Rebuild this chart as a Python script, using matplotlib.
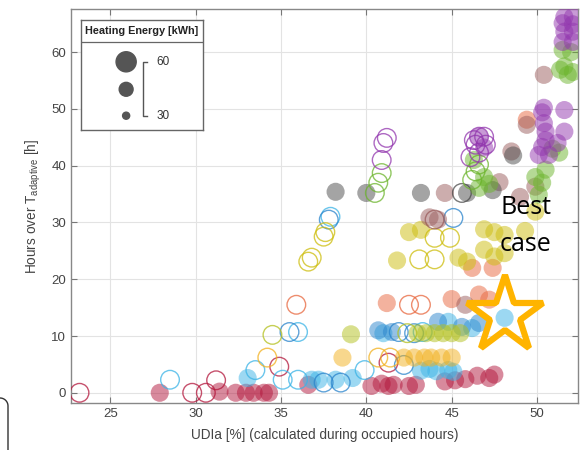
import numpy as np
import matplotlib
matplotlib.use("Agg")
import matplotlib.pyplot as plt
from matplotlib.lines import Line2D

# ---- datos (x = UDIa [%], y = horas sobre T_adaptive) ----
red_fill_x = [27.9, 31.4, 32.35, 32.95, 33.4, 34.0, 34.3, 36.6, 40.3, 40.9, 41.3, 41.6, 42.5, 42.9,
              44.6, 45.2, 45.8, 46.5, 47.2, 47.5]
red_fill_y = [0.0, 0.2, 0.0, 0.0, 0.0, 0.0, 0.0, 1.4, 1.2, 1.6, 1.2, 1.4, 1.2, 1.4,
              2.0, 2.2, 2.4, 3.0, 2.6, 3.2]
red_open_x = [23.2, 29.8, 30.6, 31.2, 34.9, 41.3]
red_open_y = [0.0, 0.0, 0.0, 2.2, 4.6, 5.3]

lblue_fill_x = [33.05, 36.8, 37.2, 38.2, 39.2, 43.2, 43.7, 44.1, 44.8, 45.1, 41.0, 44.8, 46.2, 48.1]
lblue_fill_y = [2.6, 2.3, 2.3, 2.3, 2.6, 3.9, 4.2, 3.8, 4.0, 3.7, 10.5, 12.5, 11.4, 13.2]
lblue_open_x = [28.5, 33.5, 35.1, 36.0, 39.9, 36.0, 43.3, 37.9]
lblue_open_y = [2.3, 4.0, 2.3, 2.3, 4.0, 10.7, 10.7, 31.0]

blue_fill_x = [40.7, 41.5, 44.2, 45.6, 46.6]
blue_fill_y = [11.0, 10.7, 12.5, 11.6, 12.3]
blue_open_x = [35.5, 41.9, 42.8, 37.5, 38.5, 42.2, 37.8, 45.1]
blue_open_y = [10.7, 10.7, 10.5, 1.8, 1.8, 4.9, 30.5, 30.8]

oryel_fill_x = [38.6, 42.2, 42.8, 43.4, 43.8, 44.4, 45.0]
oryel_fill_y = [6.2, 6.2, 6.2, 6.2, 6.2, 6.2, 6.2]
oryel_open_x = [34.2, 40.7, 41.4]
oryel_open_y = [6.2, 6.2, 6.2]

ygreen_fill_x = [39.1, 43.0, 43.5, 44.0, 44.5, 45.0, 45.5]
ygreen_fill_y = [10.3, 10.5, 10.5, 10.5, 10.5, 10.5, 10.5]
ygreen_open_x = [34.5, 42.4]
ygreen_open_y = [10.2, 10.5]

salmon_fill_x = [41.2, 45.0, 46.6, 47.2, 46.2, 47.4, 49.4]
salmon_fill_y = [15.8, 16.5, 17.3, 16.4, 22.0, 22.0, 48.1]
salmon_open_x = [35.9, 42.5, 43.2]
salmon_open_y = [15.5, 15.5, 15.5]

yellow_fill_x = [41.8, 42.5, 43.2, 45.4, 45.9, 46.9, 47.5, 48.1, 46.9, 47.5, 48.1, 49.3, 49.9]
yellow_fill_y = [23.3, 28.3, 28.7, 23.8, 23.1, 25.2, 24.0, 24.6, 28.8, 28.3, 27.8, 28.5, 31.9]
yellow_open_x = [36.6, 36.8, 37.5, 37.6, 43.1, 44.0, 44.0, 44.9]
yellow_open_y = [23.1, 23.8, 27.5, 28.3, 23.5, 23.5, 27.3, 27.3]

brown_fill_x = [43.7, 44.2, 44.6, 45.8, 47.8, 49.0, 50.4, 49.9, 48.5, 49.4]
brown_fill_y = [30.9, 30.5, 35.2, 15.5, 37.1, 34.5, 56.0, 36.3, 42.5, 47.2]
brown_open_x = [44.0]
brown_open_y = [30.5]

gray_fill_x = [38.2, 40.0, 43.2, 45.9, 47.4, 48.6]
gray_fill_y = [35.4, 35.2, 35.2, 35.2, 35.7, 41.8]
gray_open_x = [45.6]
gray_open_y = [35.2]

green_fill_x = [46.6, 46.9, 47.2, 49.9, 50.1, 50.3, 50.5, 50.9, 51.3, 51.5, 52.0, 51.35, 51.8, 52.1, 51.6, 46.3]
green_fill_y = [36.1, 38.0, 36.8, 38.0, 34.9, 37.0, 39.3, 43.0, 42.3, 60.4, 60.0, 56.9, 56.0, 56.5, 57.5, 41.0]
green_open_x = [40.5, 40.7, 40.9, 46.2, 46.4, 46.6]
green_open_y = [35.2, 37.0, 38.7, 37.5, 39.0, 40.2]

purple_fill_x = [51.6, 52.1, 51.5, 52.1, 51.6, 52.1, 51.5, 52.1, 50.4, 50.3, 51.6, 51.6, 50.4, 50.5,
                 50.5, 50.3, 50.7, 50.1, 46.6, 46.9, 51.2]
purple_fill_y = [66.2, 66.2, 65.1, 64.9, 63.6, 63.6, 61.8, 61.8, 50.2, 49.4, 49.8, 46.0, 47.5, 46.0,
                 44.5, 43.3, 41.9, 41.9, 45.1, 43.2, 44.0]
purple_open_x = [41.2, 41.0, 40.9, 46.3, 46.6, 46.9, 46.4, 46.6, 47.0, 46.1]
purple_open_y = [44.9, 44.0, 41.0, 44.5, 45.1, 45.1, 43.7, 42.3, 43.7, 41.5]

best_x, best_y = 48.1, 13.7
legend_labels = ["60", "30"]

series = [
    ("#b3173c", red_fill_x, red_fill_y, red_open_x, red_open_y),
    ("#3ab3e6", lblue_fill_x, lblue_fill_y, lblue_open_x, lblue_open_y),
    ("#2a84cc", blue_fill_x, blue_fill_y, blue_open_x, blue_open_y),
    ("#f2b01c", oryel_fill_x, oryel_fill_y, oryel_open_x, oryel_open_y),
    ("#b3c01c", ygreen_fill_x, ygreen_fill_y, ygreen_open_x, ygreen_open_y),
    ("#e8673e", salmon_fill_x, salmon_fill_y, salmon_open_x, salmon_open_y),
    ("#cdbd0c", yellow_fill_x, yellow_fill_y, yellow_open_x, yellow_open_y),
    ("#9a5c5c", brown_fill_x, brown_fill_y, brown_open_x, brown_open_y),
    ("#4a4a4a", gray_fill_x, gray_fill_y, gray_open_x, gray_open_y),
    ("#6cb52c", green_fill_x, green_fill_y, green_open_x, green_open_y),
    ("#9236ae", purple_fill_x, purple_fill_y, purple_open_x, purple_open_y),
]

plt.rcParams["font.family"] = ["Liberation Sans", "DejaVu Sans"]
fig = plt.figure(figsize=(5.87, 4.5), dpi=100)
ax = fig.add_axes([71/587, 47/450, 507/587, 394/450])

for col, fx, fy, ox, oy in series:
    ax.scatter(ox, oy, s=180, facecolors="none", edgecolors=col, linewidths=1.0, alpha=0.75, zorder=3)
    ax.scatter(fx, fy, s=170, color=col, edgecolors="none", alpha=0.5, zorder=3)

ax.plot(best_x, best_y, marker="*", ms=58, mfc="none", mec="#ffb400", mew=4.5, zorder=5)
ax.text(49.35, 32.6, "Best", fontsize=18, family=["Open Sans"], ha="center", va="center", zorder=6)
ax.text(49.35, 26.1, "case", fontsize=18, family=["Open Sans"], ha="center", va="center", zorder=6)

ax.set_xlim(22.7, 52.4)
ax.set_ylim(-1.8, 67.6)
ax.set_xticks([25, 30, 35, 40, 45, 50])
ax.set_yticks([0, 10, 20, 30, 40, 50, 60])
ax.grid(True, color="#e3e3e3", lw=0.8)
ax.set_axisbelow(True)
ax.tick_params(direction="in", top=True, right=True, length=4, colors="#777777",
               labelcolor="#444444", labelsize=9.5)
for s in ax.spines.values():
    s.set_color("#888888"); s.set_linewidth(1.0)
ax.set_xlabel("UDIa [%] (calculated during occupied hours)", fontsize=9.8, color="#444444", labelpad=6)
ax.set_ylabel("Hours over T$_{\\mathregular{adaptive}}$ [h]", fontsize=9.8, color="#444444", labelpad=6)

# ---- leyenda de tamanos (energia de calefaccion) ----
lax = fig.add_axes([81/587, 320/450, 122/587, 110/450])
lax.set_xlim(0, 1); lax.set_ylim(0, 1)
lax.set_xticks([]); lax.set_yticks([])
for s in lax.spines.values():
    s.set_color("#666666"); s.set_linewidth(1.0)
lax.axhline(0.80, color="#666666", lw=0.9)
lax.text(0.5, 0.90, "Heating Energy [kWh]", fontsize=7.8, fontweight="bold", ha="center", va="center", color="#222222")
lax.scatter([0.37, 0.37, 0.37], [0.62, 0.37, 0.13], s=[210, 100, 26], color="#555555")
lax.plot([0.54, 0.51, 0.51, 0.54], [0.62, 0.62, 0.13, 0.13], color="#555555", lw=1.0)
lax.text(0.62, 0.62, legend_labels[0], fontsize=8.5, va="center", color="#333333")
lax.text(0.62, 0.13, legend_labels[1], fontsize=8.5, va="center", color="#333333")

# ---- trozo de marco redondeado abajo a la izquierda ----
t = np.linspace(0, np.pi/2, 20)
px = np.concatenate([[-20], 0 + 8*np.sin(t), [8]])
py = np.concatenate([[398], 406 - 8*np.cos(t), [450]])
fig.add_artist(Line2D(px/587, 1 - py/450, transform=fig.transFigure, color="#333333", lw=1.0))

fig.savefig("out.png", dpi=100)
